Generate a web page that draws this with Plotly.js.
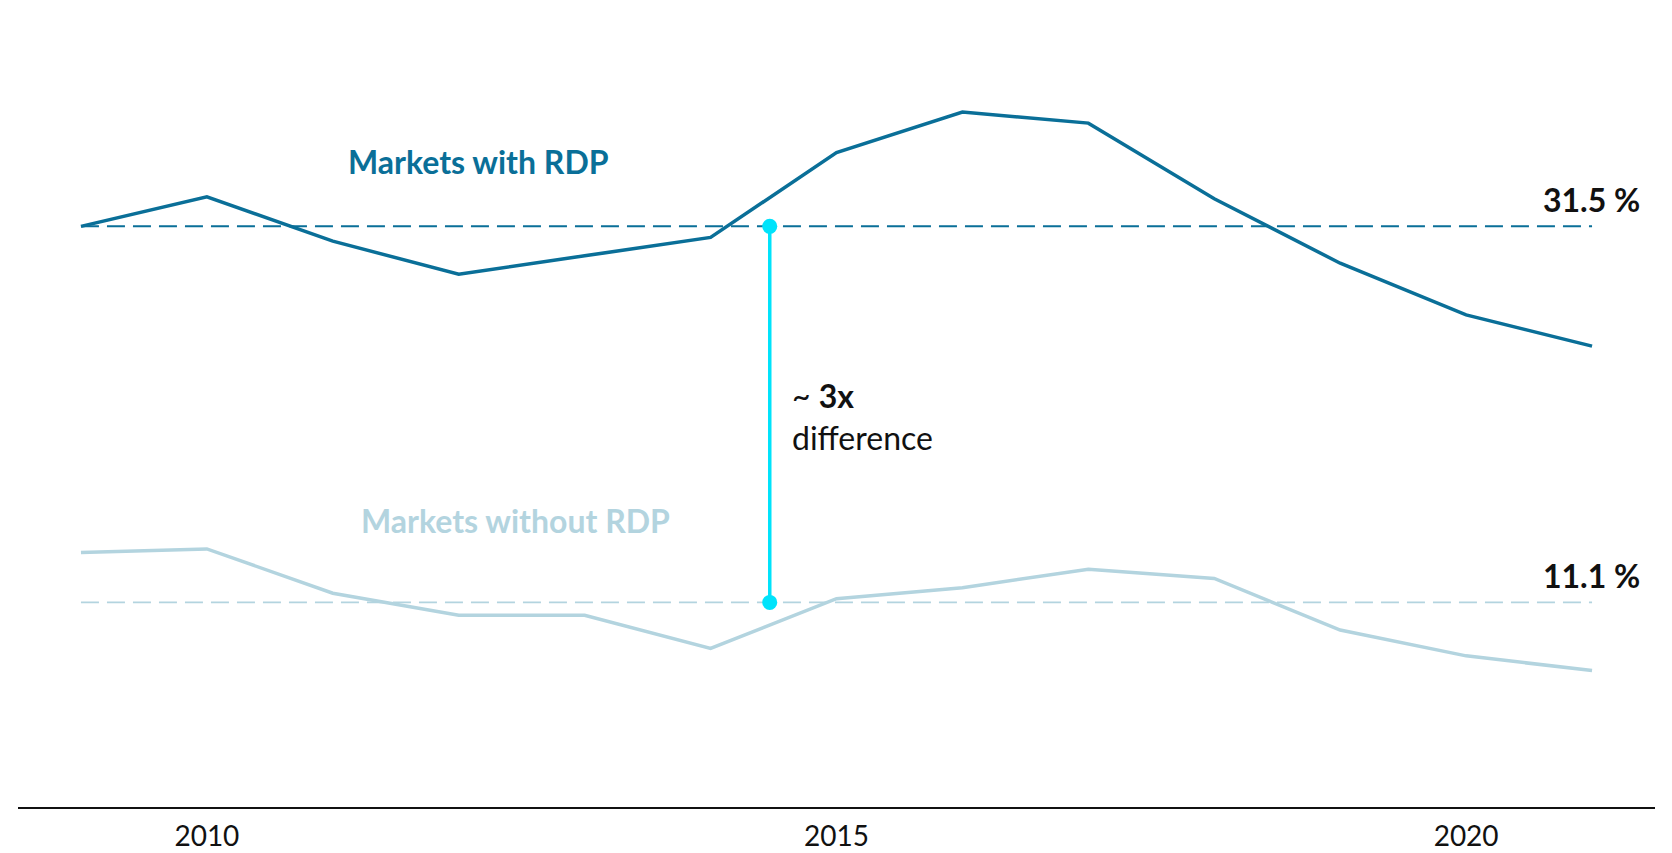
<!DOCTYPE html>
<html>
<head>
<meta charset="utf-8">
<script src="https://cdn.plot.ly/plotly-3.0.1.min.js"></script>
<style>
  html, body { margin: 0; padding: 0; background: #ffffff; }
  #chart { width: 1672px; height: 853px; }
</style>
</head>
<body>
<div id="chart"></div>
<script>
// ---- data ----
const years = [2009, 2010, 2011, 2012, 2013, 2014, 2015, 2016, 2017, 2018, 2019, 2020, 2021];
const withRDP = [31.5, 33.1, 30.7, 28.9, 29.9, 30.9, 35.5, 37.7, 37.1, 33.0, 29.5, 26.7, 25.0];
const withoutRDP = [13.8, 14.0, 11.6, 10.4, 10.4, 8.6, 11.3, 11.9, 12.9, 12.4, 9.6, 8.2, 7.4];
const seriesNames = ["Markets with RDP", "Markets without RDP"];
const averages = [31.5, 11.1];
const diffYear = 2014.47;
const diffLabel = ["~ ", "3x", "difference"];
const tickYears = [2010, 2015, 2020];
const tickLabels = ["2010", "2015", "2020"];

// ---- style ----
const darkCol = "#0a6f98";
const lightCol = "#b3d4df";
const cyanCol = "#00e3fb";
const FONT = "Lato, 'Open Sans', sans-serif";

const first = years[0], last = years[years.length - 1];

const traces = [
  { x: [first, last], y: [averages[0], averages[0]], mode: "lines",
    line: { color: darkCol, width: 2, dash: "18px,8px" }, hoverinfo: "skip" },
  { x: [first, last], y: [averages[1], averages[1]], mode: "lines",
    line: { color: lightCol, width: 1.8, dash: "18px,8px" }, hoverinfo: "skip" },
  { x: years, y: withRDP, mode: "lines", name: seriesNames[0],
    line: { color: darkCol, width: 3.5 } },
  { x: years, y: withoutRDP, mode: "lines", name: seriesNames[1],
    line: { color: lightCol, width: 3.5 } },
  { x: [diffYear, diffYear], y: [averages[0], averages[1]], mode: "lines+markers",
    line: { color: cyanCol, width: 3.5 },
    marker: { color: cyanCol, size: 15 }, hoverinfo: "skip" }
];

const layout = {
  width: 1672, height: 853,
  margin: { l: 18, r: 17, t: 7, b: 46 },
  paper_bgcolor: "#ffffff", plot_bgcolor: "#ffffff",
  showlegend: false,
  hovermode: false,
  xaxis: {
    range: [2008.5, 2021.5],
    tickmode: "array", tickvals: tickYears, ticktext: tickLabels,
    showgrid: false, zeroline: false,
    showline: true, linecolor: "#111111", linewidth: 2,
    ticks: "outside", ticklen: 3, tickcolor: "rgba(0,0,0,0)",
    tickfont: { family: FONT, size: 28, color: "#111111" }
  },
  yaxis: {
    range: [0, 43.4],
    visible: false, showgrid: false, zeroline: false
  },
  annotations: [
    { x: 2012.16, y: 35.0, xref: "x", yref: "y", text: "<b>" + seriesNames[0] + "</b>",
      showarrow: false, xanchor: "center", yanchor: "middle",
      font: { family: FONT, size: 32, color: darkCol } },
    { x: 2012.45, y: 15.55, xref: "x", yref: "y", text: "<b>" + seriesNames[1] + "</b>",
      showarrow: false, xanchor: "center", yanchor: "middle",
      font: { family: FONT, size: 32, color: lightCol } },
    { x: 2021.4, y: averages[0] + 1.45, xref: "x", yref: "y", text: "<b>" + averages[0].toFixed(1) + " %</b>",
      showarrow: false, xanchor: "right", yanchor: "middle",
      font: { family: FONT, size: 32, color: "#111111" } },
    { x: 2021.4, y: averages[1] + 1.45, xref: "x", yref: "y", text: "<b>" + averages[1].toFixed(1) + " %</b>",
      showarrow: false, xanchor: "right", yanchor: "middle",
      font: { family: FONT, size: 32, color: "#111111" } },
    { x: 2014.63, y: 21.2, xref: "x", yref: "y",
      text: diffLabel[0] + "<b>" + diffLabel[1] + "</b><br>" + diffLabel[2],
      showarrow: false, xanchor: "left", yanchor: "middle", align: "left",
      font: { family: FONT, size: 32, color: "#111111" } }
  ]
};

Plotly.newPlot("chart", traces, layout, { displayModeBar: false, staticPlot: true });
</script>
</body>
</html>
